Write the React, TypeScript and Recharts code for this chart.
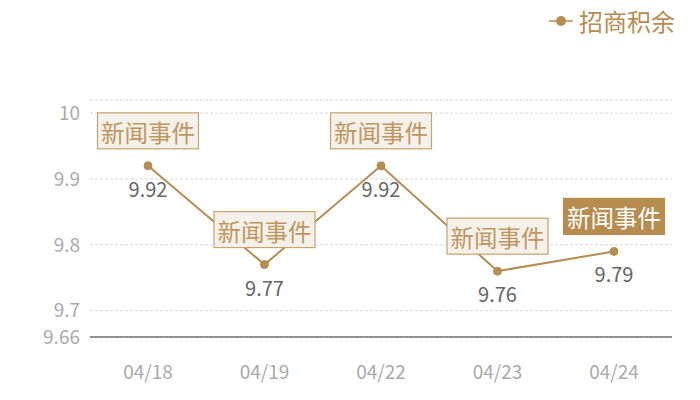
import React from "react";
import { LineChart, Line, XAxis, YAxis, CartesianGrid } from "recharts";

const dates = ["04/18", "04/19", "04/22", "04/23", "04/24"];
const prices = [9.92, 9.77, 9.92, 9.76, 9.79];
const events = ["新闻事件", "新闻事件", "新闻事件", "新闻事件", "新闻事件"];
const highlighted = [false, false, false, false, true];
const yTicks = [9.66, 9.7, 9.8, 9.9, 10, 10.02];

const GOLD = "#b68d4f";
const FONT = "'Noto Sans CJK SC', 'Noto Sans', sans-serif";

const chartData = dates.map((d, i) => ({
  date: d,
  value: prices[i],
  event: events[i],
  hot: highlighted[i],
}));

const PointLabel = (props: any) => {
  const { x, y, index } = props;
  const row = chartData[index];
  const w = 101;
  const h = 36;
  const top = y - 17 - h;
  return (
    <g>
      <rect
        x={x - w / 2}
        y={top}
        width={w}
        height={h}
        fill={row.hot ? GOLD : "#f4f0ea"}
        stroke={row.hot ? GOLD : "#c6a26c"}
        strokeWidth={1.2}
      />
      <text
        x={x}
        y={top + h / 2 + 1}
        textAnchor="middle"
        dominantBaseline="central"
        fontSize={23.5}
        fontFamily={FONT}
        fill={row.hot ? "#ffffff" : "#bf975e"}
      >
        {row.event}
      </text>
      <text x={x} y={y + 31} textAnchor="middle" fontSize={20} fontFamily={FONT} fill="#666666">
        {row.value.toFixed(2)}
      </text>
    </g>
  );
};

export default function App() {
  return (
    <div style={{ position: "absolute", left: 0, top: 0, width: 700, height: 400, background: "#fff" }}>
      <div
        style={{
          position: "absolute",
          right: 25,
          top: 3,
          display: "flex",
          alignItems: "center",
          fontFamily: FONT,
          fontSize: 24,
          color: GOLD,
        }}
      >
        <svg width={24} height={14} style={{ marginRight: 6 }}>
          <line x1={0} y1={7} x2={24} y2={7} stroke={GOLD} strokeWidth={1.5} />
          <circle cx={12} cy={7} r={5} fill={GOLD} />
        </svg>
        招商积余
      </div>
      <LineChart width={700} height={400} data={chartData} margin={{ top: 100, right: 28, left: 0, bottom: 3 }}>
        <CartesianGrid vertical={false} stroke="#d6d6d6" strokeDasharray="3 2" />
        <XAxis
          dataKey="date"
          padding={{ left: 58, right: 58 }}
          axisLine={{ stroke: "#333333", strokeWidth: 1.2 }}
          tickLine={false}
          tickSize={6}
          tickMargin={23}
          height={60}
          tick={{ fill: "#aaaaaa", fontSize: 19, fontFamily: FONT }}
        />
        <YAxis
          domain={[9.66, 10.02]}
          ticks={yTicks}
          interval={0}
          width={90}
          axisLine={false}
          tickLine={false}
          tickMargin={4}
          tickFormatter={(v: number) => (v === 10.02 ? "" : String(v))}
          tick={{ fill: "#aaaaaa", fontSize: 19, fontFamily: FONT }}
        />
        <Line
          type="linear"
          dataKey="value"
          stroke={GOLD}
          strokeWidth={2}
          dot={{ r: 4, fill: GOLD, stroke: GOLD, strokeWidth: 1 }}
          activeDot={false}
          label={<PointLabel />}
          isAnimationActive={false}
        />
      </LineChart>
    </div>
  );
}
